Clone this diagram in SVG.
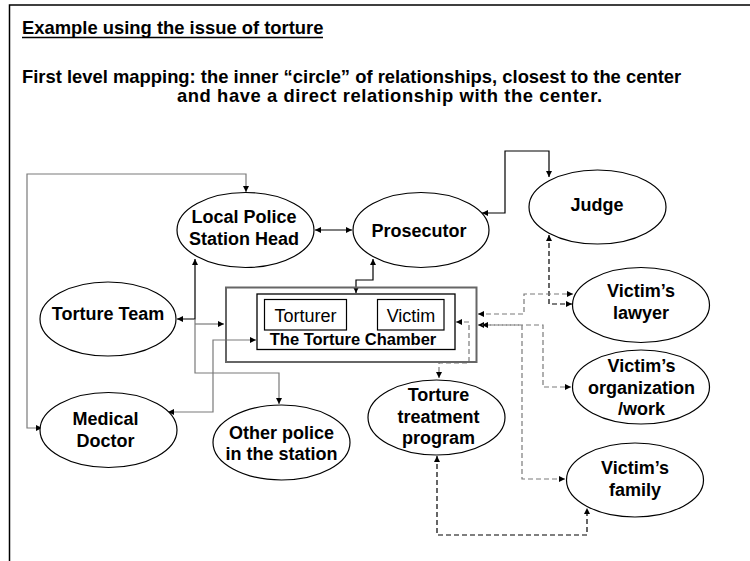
<svg xmlns="http://www.w3.org/2000/svg" width="750" height="561" viewBox="0 0 750 561">
<style>
.hdr{font-family:"Liberation Sans",Arial,sans-serif;font-weight:bold;font-size:18.4px;fill:#000}
.nt{font-family:"Liberation Sans",Arial,sans-serif;font-weight:bold;font-size:18px;fill:#000;text-anchor:middle}
.rt{font-family:"Liberation Sans",Arial,sans-serif;font-size:18px;fill:#000;text-anchor:middle}
.el{fill:#fff;stroke:#000;stroke-width:1.2}
.bk{fill:none;stroke:#000;stroke-width:1.2}
.gy{fill:none;stroke:#7a7a7a;stroke-width:1.2}
.dk{fill:none;stroke:#000;stroke-width:1.2;stroke-dasharray:5,3}
.dg{fill:none;stroke:#7a7a7a;stroke-width:1.2;stroke-dasharray:5,3}
</style>
<defs>
<marker id="ab" viewBox="0 0 10 10" refX="10" refY="5" markerWidth="7" markerHeight="6" orient="auto-start-reverse" markerUnits="userSpaceOnUse"><path d="M0,0 L10,5 L0,10 z" fill="#000"/></marker>
</defs>
<rect width="750" height="561" fill="#fff"/>
<path d="M9.5,561 V5 H750" fill="none" stroke="#000" stroke-width="1.5"/>
<g id="header">
<text class="hdr" x="22" y="34">Example using the issue of torture</text>
<line x1="22" y1="37.5" x2="323" y2="37.5" stroke="#000" stroke-width="1.4"/>
<text class="hdr" x="22" y="83">First level mapping: the inner “circle” of relationships, closest to the center</text>
<text class="hdr" x="177" y="102" textLength="425" lengthAdjust="spacing">and have a direct relationship with the center.</text>
</g>
<g id="connectors">
<path class="bk" d="M315,230 H352" marker-start="url(#ab)" marker-end="url(#ab)"/>
<path class="bk" d="M373,259 V280 H356 V293" marker-start="url(#ab)" marker-end="url(#ab)"/>
<path class="bk" d="M482,213 H505 V151 H549 V177" marker-start="url(#ab)" marker-end="url(#ab)"/>
<path class="gy" d="M246,192 V174 H27 V428 H42" marker-start="url(#ab)" marker-end="url(#ab)"/>
<path class="bk" d="M177,319 H195 V259" marker-start="url(#ab)" marker-end="url(#ab)"/>
<path class="gy" d="M195,324 H224" marker-end="url(#ab)"/>
<path class="gy" d="M195,319 V373 H279 V404" marker-end="url(#ab)"/>
<path class="gy" d="M256,340 H213 V412 H168" marker-start="url(#ab)" marker-end="url(#ab)"/>
<path class="dk" d="M549,235 V304 H572" marker-start="url(#ab)" marker-end="url(#ab)"/>
<path class="dg" d="M478,314 H524 V294 H573" marker-start="url(#ab)" marker-end="url(#ab)"/>
<path class="dg" d="M478,325 H543 V387 H571" marker-start="url(#ab)" marker-end="url(#ab)"/>
<path class="dg" d="M482,325 H522 V479 H565" marker-start="url(#ab)" marker-end="url(#ab)"/>
<path class="dg" d="M456,322 H469 V363 H439 V378" marker-start="url(#ab)" marker-end="url(#ab)"/>
<path class="dk" d="M437,456 V535 H587 V508" marker-start="url(#ab)" marker-end="url(#ab)"/>
</g>
<g id="chamber">
<rect x="226" y="287.5" width="250.5" height="74.5" fill="none" stroke="#666" stroke-width="2"/>
<rect x="257" y="294" width="198" height="55.5" fill="none" stroke="#000" stroke-width="1.3"/>
<text class="nt" x="353" y="345" style="font-size:16.5px">The Torture Chamber</text>
</g>
<g id="torturer">
<rect x="264.5" y="299.5" width="82" height="30.5" fill="none" stroke="#000" stroke-width="1.2"/>
<text class="rt" x="305.5" y="322">Torturer</text>
</g>
<g id="victim">
<rect x="377.5" y="299.5" width="66.5" height="30.5" fill="none" stroke="#000" stroke-width="1.2"/>
<text class="rt" x="411" y="322">Victim</text>
</g>
<g id="local-police">
<ellipse class="el" cx="245.5" cy="230" rx="68.5" ry="37.5"/>
<text class="nt" x="244" y="223">Local Police</text>
<text class="nt" x="244" y="244.5">Station Head</text>
</g>
<g id="prosecutor">
<ellipse class="el" cx="421" cy="230" rx="68" ry="37.5"/>
<text class="nt" x="419" y="237">Prosecutor</text>
</g>
<g id="judge">
<ellipse class="el" cx="597.5" cy="207" rx="68.5" ry="37"/>
<text class="nt" x="597" y="211">Judge</text>
</g>
<g id="torture-team">
<ellipse class="el" cx="108" cy="319" rx="68" ry="37"/>
<text class="nt" x="108" y="320">Torture Team</text>
</g>
<g id="medical-doctor">
<ellipse class="el" cx="108.5" cy="430" rx="68.5" ry="37.5"/>
<text class="nt" x="105.5" y="425">Medical</text>
<text class="nt" x="105.5" y="446.5">Doctor</text>
</g>
<g id="other-police">
<ellipse class="el" cx="281.5" cy="442.5" rx="68.5" ry="37.5"/>
<text class="nt" x="281.5" y="438.5">Other police</text>
<text class="nt" x="281.5" y="460">in the station</text>
</g>
<g id="torture-treatment">
<ellipse class="el" cx="436.5" cy="417.5" rx="68.5" ry="37.5"/>
<text class="nt" x="438.5" y="401">Torture</text>
<text class="nt" x="438.5" y="422.5">treatment</text>
<text class="nt" x="438.5" y="444">program</text>
</g>
<g id="victims-lawyer">
<ellipse class="el" cx="641" cy="305" rx="68.5" ry="37.5"/>
<text class="nt" x="641" y="297">Victim’s</text>
<text class="nt" x="641" y="318.5">lawyer</text>
</g>
<g id="victims-organization">
<ellipse class="el" cx="641" cy="387" rx="68.5" ry="37"/>
<text class="nt" x="641.5" y="372">Victim’s</text>
<text class="nt" x="641.5" y="393.5">organization</text>
<text class="nt" x="641.5" y="415">/work</text>
</g>
<g id="victims-family">
<ellipse class="el" cx="635" cy="480" rx="68.5" ry="37"/>
<text class="nt" x="635" y="474">Victim’s</text>
<text class="nt" x="635" y="495.5">family</text>
</g>
</svg>
